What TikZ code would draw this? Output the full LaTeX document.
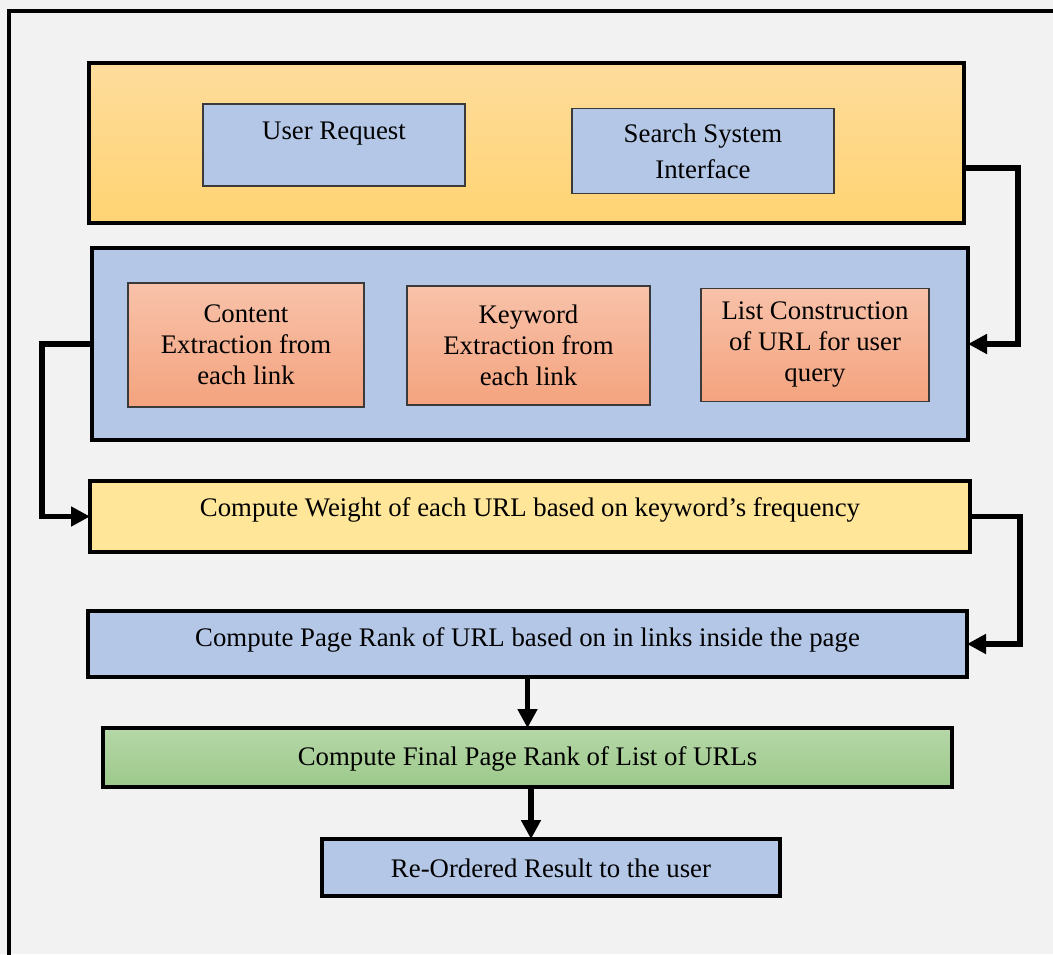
\documentclass[tikz,border=0pt]{standalone}
\usepackage{fontspec}
\setmainfont{Liberation Serif}
\usetikzlibrary{arrows.meta}
\definecolor{bg}{HTML}{F2F2F2}
\definecolor{orangeT}{HTML}{FEDC9C}
\definecolor{orangeB}{HTML}{FFD473}
\definecolor{lblue}{HTML}{B4C7E7}
\definecolor{salT}{HTML}{F8C2AA}
\definecolor{salB}{HTML}{F4A37E}
\definecolor{lyellow}{HTML}{FFE699}
\definecolor{grT}{HTML}{B6D7A8}
\definecolor{grB}{HTML}{9CC98A}
\definecolor{thin}{HTML}{3A3A3A}
\tikzset{
  bigbox/.style={draw=black, line width=4pt, inner sep=0pt, outer sep=0pt},
  smallbox/.style={draw=thin, line width=1.2pt, inner sep=0pt, outer sep=0pt},
  txt/.style={align=center, inner sep=0pt, font=\fontsize{26.8}{31}\selectfont},
  conn/.style={line width=5.5pt, -{Triangle[length=19pt,width=19pt]}},
}
\begin{document}
\begin{tikzpicture}[x=1pt,y=-1pt]
\useasboundingbox (0,0) rectangle (1053,954);
\fill[bg] (0,0) rectangle (1053,954);
\draw[line width=4pt] (9,970) -- (9,11) -- (1070,11);

% top orange block
\node[bigbox, top color=orangeT, bottom color=orangeB, minimum width=875pt, minimum height=160pt] (orange) at (526.5,143) {};
\node[smallbox, fill=lblue, minimum width=262pt, minimum height=82pt] (user) at (334,145) {};
\node[txt] (usert) at (334,134) {User Request};
\node[smallbox, fill=lblue, minimum width=262pt, minimum height=85pt, txt] (search) at (703,151) {Search System\\[5pt]Interface};

% blue block
\node[bigbox, fill=lblue, minimum width=876pt, minimum height=192pt] (bluebig) at (530,344) {};
\node[smallbox, top color=salT, bottom color=salB, minimum width=236pt, minimum height=124pt, txt] (content) at (246,345) {Content\\Extraction from\\each link};
\node[smallbox, top color=salT, bottom color=salB, minimum width=243pt, minimum height=119pt, txt] (keyword) at (528.5,345.5) {Keyword\\Extraction from\\each link};
\node[smallbox, top color=salT, bottom color=salB, minimum width=228pt, minimum height=113pt, txt] (list) at (815,345) {List Construction\\of URL for user\\query};

% lower blocks
\node[bigbox, fill=lyellow, minimum width=880pt, minimum height=71pt] (yellow) at (530,516.5) {};
\node[txt] (yellowt) at (530,510) {Compute Weight of each URL based on keyword’s frequency};
\node[bigbox, fill=lblue, minimum width=879pt, minimum height=66pt] (pagerank) at (527.5,644) {};
\node[txt] (pageranktxt) at (527.5,640) {Compute Page Rank of URL based on in links inside the page};
\node[bigbox, top color=grT, bottom color=grB, minimum width=849pt, minimum height=59pt] (green) at (527.5,757.5) {};
\node[txt] (greent) at (527.5,759) {Compute Final Page Rank of List of URLs};
\node[bigbox, fill=lblue, minimum width=458pt, minimum height=57pt] (reordered) at (551,867.5) {};
\node[txt] (reorderedt) at (551,868) {Re-Ordered Result to the user};

% connectors
\coordinate (c1) at (1018,168);
\coordinate (c2) at (42,344);
\coordinate (c3) at (1020,516.5);
\coordinate (c5) at (531,0);
\draw[conn] ([yshift=-25pt]orange.east) -- (c1) |- (bluebig.east);
\draw[conn] (bluebig.west) -- (c2) |- (yellow.west);
\draw[conn] (yellow.east) -- (c3) |- (pagerank.east);
\draw[conn] (pagerank.south) -- (green.north);
\draw[conn] (green.south -| c5) -- (reordered.north -| c5);
\end{tikzpicture}
\end{document}
